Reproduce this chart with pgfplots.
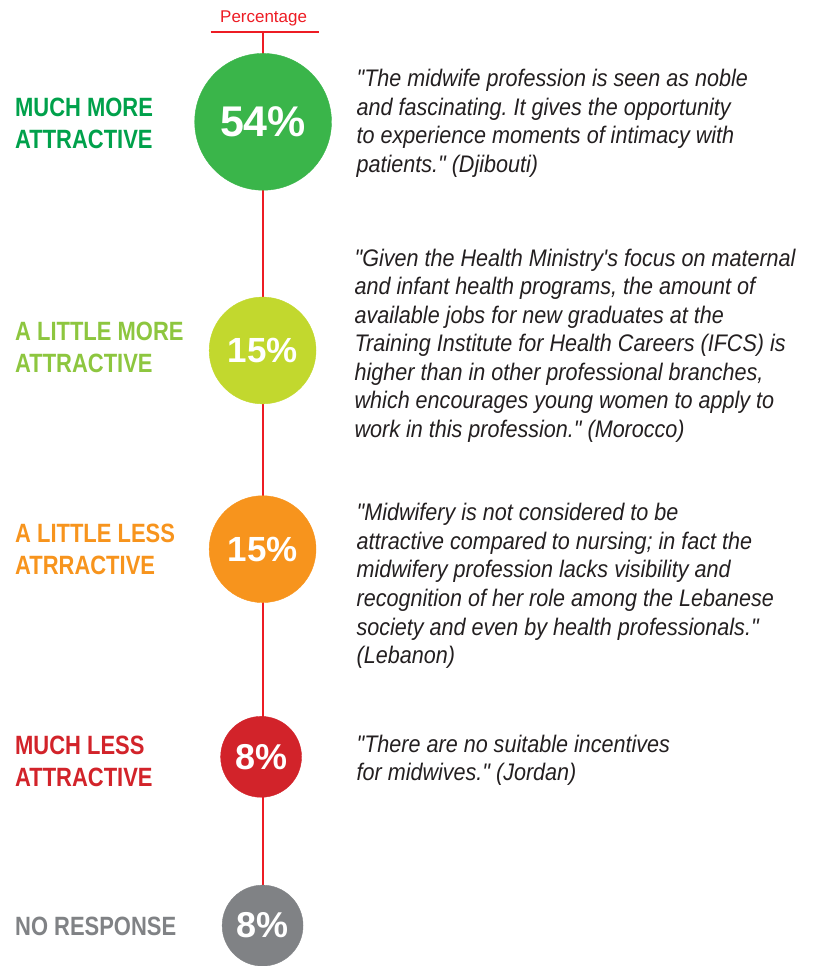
\documentclass[border=0pt]{standalone}
\usepackage{pgfplots}
\pgfplotsset{compat=1.18}
\usepackage{pgfplotstable}
\usepackage{fontspec}
\setmainfont{Liberation Sans}
\newfontfamily\condfont[FakeStretch=0.83]{Liberation Sans}
\newfontfamily\quotefont[FakeStretch=0.90,Ligatures=TeXOff]{Liberation Sans}
\frenchspacing
\definecolor{redline}{HTML}{ED1C24}
\definecolor{cA}{HTML}{3AB54A}
\definecolor{lA}{HTML}{00A14B}
\definecolor{cB}{HTML}{C2D82E}
\definecolor{lB}{HTML}{8DC63F}
\definecolor{cC}{HTML}{F7941D}
\definecolor{lC}{HTML}{F7941D}
\definecolor{cD}{HTML}{D2232A}
\definecolor{lD}{HTML}{D2232A}
\definecolor{cE}{HTML}{808285}
\definecolor{lE}{HTML}{808285}
\definecolor{qtext}{HTML}{231F20}
\begin{document}
\begin{tikzpicture}
\begin{axis}[
  scale only axis, width=817pt, height=966pt,
  xmin=0, xmax=817, ymin=0, ymax=966, y dir=reverse,
  hide axis, clip=false,
  /pgf/number format/assume math mode=true,
  point meta=explicit,
  nodes near coords={\pgfmathprintnumber{\pgfplotspointmeta}\%},
  every node near coord/.append style={anchor=center, text=white, inner sep=0pt},
]
\path (axis cs:0,0) rectangle (axis cs:817,966);
\draw[redline, line width=2pt] (axis cs:263,32) -- (axis cs:263,895);
\draw[redline, line width=1.5pt] (axis cs:211,32) -- (axis cs:319,32);
\node[text=redline, font=\fontsize{17}{20}\selectfont, anchor=base] at (axis cs:264,23) {Percentage};

\addplot[only marks, mark=*, mark size=68.5pt, color=cA,
  every node near coord/.append style={font=\fontsize{43}{43}\selectfont\bfseries}]
  coordinates {(263.5,122) [54]};
\addplot[only marks, mark=*, mark size=53.5pt, color=cB,
  every node near coord/.append style={font=\fontsize{35}{35}\selectfont\bfseries}]
  coordinates {(263,351) [15]};
\addplot[only marks, mark=*, mark size=53.5pt, color=cC,
  every node near coord/.append style={font=\fontsize{35}{35}\selectfont\bfseries}]
  coordinates {(263,550) [15]};
\addplot[only marks, mark=*, mark size=40.5pt, color=cD,
  every node near coord/.append style={font=\fontsize{36}{36}\selectfont\bfseries}]
  coordinates {(261.5,758) [8]};
\addplot[only marks, mark=*, mark size=40.5pt, color=cE,
  every node near coord/.append style={font=\fontsize{36}{36}\selectfont\bfseries}]
  coordinates {(263,927) [8]};

\tikzset{lab/.style={anchor=west, align=left, inner sep=0pt, font=\condfont\fontsize{26.5}{32}\selectfont\bfseries}}
\node[lab, text=lA] at (axis cs:15,123.5) {MUCH MORE\\ATTRACTIVE};
\node[lab, text=lB] at (axis cs:15,347.5) {A LITTLE MORE\\ATTRACTIVE};
\node[lab, text=lC] at (axis cs:15,550.5) {A LITTLE LESS\\ATRRACTIVE};
\node[lab, text=lD] at (axis cs:15,762.5) {MUCH LESS\\ATTRACTIVE};
\node[lab, text=lE] at (axis cs:15,927.5) {NO RESPONSE};

\tikzset{quo/.style={anchor=north west, align=left, inner sep=0pt, text=qtext, font=\quotefont\fontsize{24}{28.6}\selectfont\itshape}}
\node[quo] at (axis cs:357,69) {"The midwife profession is seen as noble\\and fascinating. It gives the opportunity\\to experience moments of intimacy with\\patients." (Djibouti)};
\node[quo] at (axis cs:355,249) {"Given the Health Ministry's focus on maternal\\and infant health programs, the amount of\\available jobs for new graduates at the\\Training Institute for Health Careers (IFCS) is\\higher than in other professional branches,\\which encourages young women to apply to\\work in this profession." (Morocco)};
\node[quo] at (axis cs:357,504) {"Midwifery is not considered to be\\attractive compared to nursing; in fact the\\midwifery profession lacks visibility and\\recognition of her role among the Lebanese\\society and even by health professionals."\\(Lebanon)};
\node[quo] at (axis cs:357,736) {"There are no suitable incentives\\for midwives." (Jordan)};
\end{axis}
\end{tikzpicture}
\end{document}
